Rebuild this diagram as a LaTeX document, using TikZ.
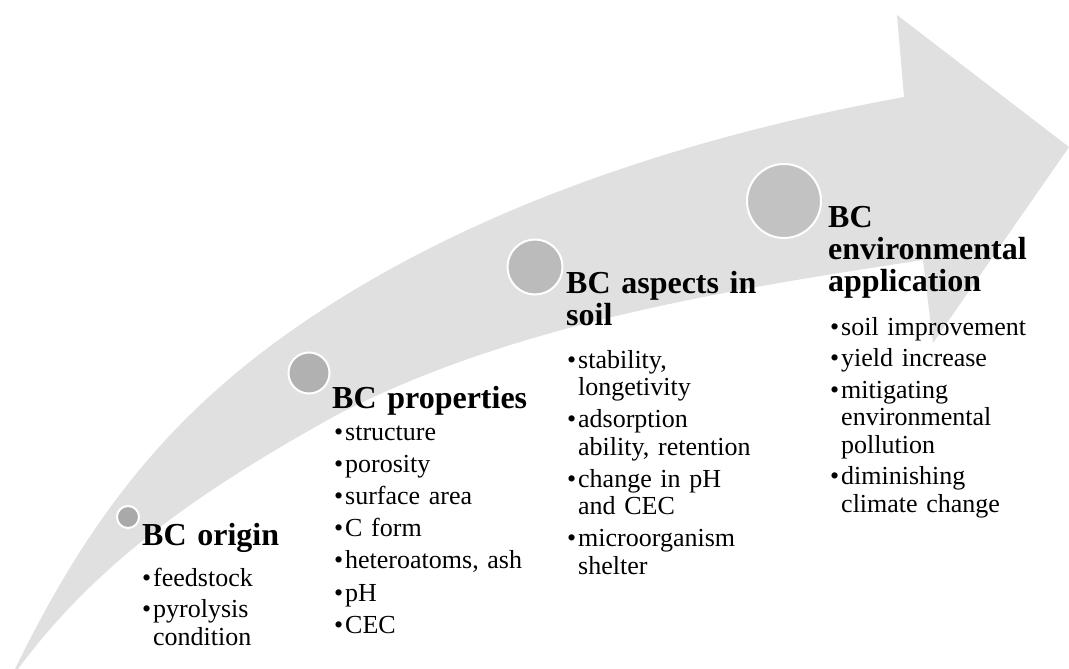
\documentclass[tikz,border=0pt]{standalone}
\usepackage{fontspec}
\setmainfont{Liberation Serif}
\definecolor{arrowgray}{HTML}{E0E0E0}
\definecolor{dotA}{HTML}{A9A9A9}
\definecolor{dotB}{HTML}{B1B1B1}
\definecolor{dotC}{HTML}{BBBBBB}
\definecolor{dotD}{HTML}{C2C2C2}
\newcommand\itmfirst[1]{\hangindent=11pt\hangafter=1\noindent\makebox[11pt][l]{\textbullet}#1}
\newcommand\itm[1]{\par\itmfirst{#1}}
\begin{document}
\begin{tikzpicture}[x=1pt,y=-1pt,
  hdr/.style={anchor=base west, inner sep=0pt, text width=260pt,
    font=\fontsize{32}{32}\selectfont\bfseries},
  lst/.style={anchor=base west, inner sep=0pt, text width=260pt,
    font=\fontsize{26}{27.5}\selectfont},
  dot/.style={circle, draw=white, line width=2pt, inner sep=0pt}]
\useasboundingbox (0,0) rectangle (1069,669);
% big curved arrow
\fill[arrowgray] (15,669)
  .. controls (94,507) and (181,399) .. (333,303)
  .. controls (502,196) and (707,133) .. (904,97)
  -- (897,15) -- (1069,147) -- (933,343) -- (923,260)
  .. controls (725,290) and (508,325) .. (333,417)
  .. controls (202,490) and (98,561) .. (18,669) -- cycle;
% circles
\node[dot, fill=dotA, minimum size=22pt] (c1) at (128,517) {};
\node[dot, fill=dotB, minimum size=41pt] (c2) at (309,373) {};
\node[dot, fill=dotC, minimum size=55pt] (c3) at (535,267) {};
\node[dot, fill=dotD, minimum size=74pt] (c4) at (784,201) {};
% headers
\node[hdr] (h1) at (142,545) {\raggedright BC origin};
\node[hdr] (h2) at (332,408) {\raggedright BC properties};
\node[hdr] (h3) at (566,293) {\raggedright BC aspects in\\soil};
\node[hdr] (h4) at (828,227) {\raggedright BC\\environmental\\application};
% lists
\node[lst] (l1) at (142,586) {\raggedright\setlength\parskip{4pt}\itmfirst{feedstock}\itm{pyrolysis\newline condition}\par};
\node[lst] (l2) at (334,440) {\raggedright\setlength\parskip{4.7pt}\itmfirst{structure}\itm{porosity}\itm{surface area}\itm{C form}\itm{heteroatoms, ash}\itm{pH}\itm{CEC}\par};
\node[lst] (l3) at (567,368) {\raggedright\setlength\parskip{4.5pt}\itmfirst{stability,\newline longetivity}\itm{adsorption\newline ability, retention}\itm{change in pH\newline and CEC}\itm{microorganism\newline shelter}\par};
\node[lst] (l4) at (830,335) {\raggedright\setlength\parskip{4pt}\itmfirst{soil improvement}\itm{yield increase}\itm{mitigating\newline environmental\newline pollution}\itm{diminishing\newline climate change}\par};
\end{tikzpicture}
\end{document}
